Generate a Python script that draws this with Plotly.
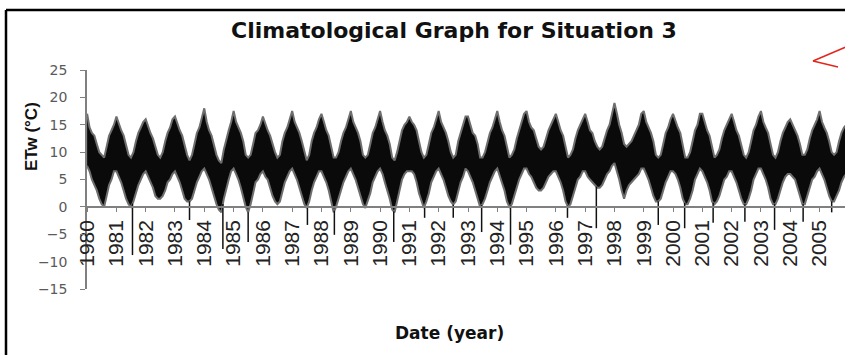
import numpy as np
import pandas as pd
import plotly.graph_objects as go

# ---------------- data ----------------
years = list(range(1980, 2006))
year_labels = [str(y) for y in years]

# monthly upper edge of the daily ETw band (deg C), Jan..Dec for each year
band_top = [
    17.0, 14.5, 13.5, 13.0, 11.5, 10.0, 9.5, 9.0, 11.0, 13.0, 14.0, 15.0,    # 1980
    16.5, 15.0, 14.0, 13.0, 11.5, 9.5, 9.0, 10.0, 12.0, 13.5, 14.5, 15.5,    # 1981
    16.0, 14.5, 13.5, 12.5, 11.0, 9.5, 9.0, 10.0, 12.0, 13.5, 14.5, 16.0,    # 1982
    16.5, 15.0, 14.0, 13.0, 11.5, 9.5, 8.5, 9.5, 11.5, 13.5, 14.5, 16.0,     # 1983
    18.0, 15.5, 14.0, 13.0, 11.5, 9.5, 8.5, 8.0, 10.5, 12.5, 14.0, 15.5,     # 1984
    17.5, 15.5, 14.5, 13.5, 12.0, 9.5, 9.0, 9.5, 11.5, 13.5, 14.0, 15.0,     # 1985
    16.5, 15.0, 14.0, 13.0, 11.5, 10.0, 9.0, 9.5, 12.0, 13.5, 14.5, 16.0,    # 1986
    17.5, 15.5, 14.5, 13.5, 12.0, 10.0, 8.5, 9.5, 12.0, 13.5, 14.5, 16.0,    # 1987
    17.0, 15.5, 14.0, 13.0, 11.0, 9.0, 9.0, 10.0, 12.0, 13.5, 14.5, 16.0,    # 1988
    17.5, 15.5, 14.5, 13.5, 12.0, 9.5, 9.0, 9.5, 11.5, 13.5, 14.5, 16.0,     # 1989
    17.5, 15.5, 14.0, 13.0, 11.5, 9.0, 8.5, 10.0, 12.0, 14.0, 15.0, 15.5,    # 1990
    16.5, 15.5, 15.0, 14.0, 12.0, 10.0, 9.0, 9.5, 11.5, 13.5, 14.5, 16.0,    # 1991
    17.5, 15.5, 14.5, 13.5, 12.0, 10.0, 9.0, 9.5, 12.0, 13.5, 15.0, 16.5,    # 1992
    16.5, 15.0, 13.5, 13.0, 11.5, 9.0, 9.0, 10.0, 12.0, 13.5, 14.5, 16.0,    # 1993
    17.5, 15.5, 14.0, 13.0, 11.0, 9.0, 9.5, 10.5, 12.5, 14.0, 15.5, 17.0,    # 1994
    17.5, 15.5, 14.5, 14.0, 12.5, 11.0, 10.5, 11.0, 12.5, 14.0, 15.0, 16.0,  # 1995
    17.0, 15.5, 14.0, 13.0, 11.0, 9.0, 9.5, 10.5, 12.5, 14.0, 15.0, 16.0,    # 1996
    17.0, 15.5, 14.0, 13.5, 12.0, 11.0, 10.5, 11.0, 12.5, 14.0, 15.0, 17.0,  # 1997
    19.0, 17.0, 15.0, 13.5, 11.5, 11.0, 11.5, 12.0, 13.0, 14.0, 15.0, 17.0,  # 1998
    17.5, 15.5, 14.5, 13.5, 12.0, 9.5, 9.0, 9.5, 11.5, 13.5, 14.5, 16.0,     # 1999
    17.0, 15.5, 14.5, 13.5, 11.5, 9.0, 9.0, 10.0, 12.0, 14.0, 15.0, 17.0,    # 2000
    17.0, 15.5, 14.0, 13.0, 11.0, 9.0, 9.5, 10.5, 12.5, 14.0, 15.0, 16.0,    # 2001
    17.0, 15.5, 14.0, 13.0, 11.5, 9.5, 9.0, 10.0, 12.0, 14.0, 15.0, 16.5,    # 2002
    17.5, 15.5, 14.5, 13.5, 11.5, 9.5, 9.0, 10.0, 12.0, 13.5, 14.5, 15.5,    # 2003
    16.0, 15.0, 14.0, 13.0, 11.5, 9.5, 9.5, 10.5, 12.5, 14.0, 15.0, 16.0,    # 2004
    17.5, 15.5, 14.5, 13.5, 12.0, 10.0, 9.5, 10.0, 12.0, 13.5, 14.5, 15.0,   # 2005
]

# monthly lower edge of the daily ETw band (deg C)
band_bottom = [
    7.5, 6.5, 5.0, 4.0, 3.0, 1.5, 0.5, 0.0, 2.0, 4.0, 5.0, 6.5,      # 1980
    6.5, 5.5, 4.5, 3.0, 1.5, 0.5, 0.0, 1.0, 2.5, 4.0, 5.0, 6.0,      # 1981
    6.5, 5.5, 4.5, 3.5, 2.0, 1.5, 1.5, 2.0, 3.0, 4.5, 5.0, 6.0,      # 1982
    6.5, 5.5, 4.5, 3.0, 1.5, 1.0, 1.0, 1.5, 3.0, 4.5, 5.5, 6.5,      # 1983
    7.0, 6.0, 5.0, 3.5, 2.0, 0.5, -0.5, -1.0, 1.5, 3.5, 5.0, 6.5,    # 1984
    7.0, 6.0, 5.0, 3.5, 1.5, 0.0, -1.0, 0.5, 2.5, 4.5, 5.0, 6.0,     # 1985
    6.5, 5.5, 5.0, 3.5, 2.0, 1.0, 0.5, 1.0, 3.0, 4.5, 5.5, 6.5,      # 1986
    7.0, 6.0, 5.0, 3.5, 2.0, 0.5, -0.2, 1.0, 3.0, 4.5, 5.5, 6.5,     # 1987
    6.5, 5.5, 4.5, 3.0, 1.0, -1.0, 0.0, 1.5, 3.0, 4.5, 5.5, 6.5,     # 1988
    7.0, 6.0, 5.0, 3.5, 2.0, 0.5, -0.2, 1.0, 2.5, 4.5, 5.5, 6.5,     # 1989
    7.0, 6.0, 4.5, 3.0, 1.5, -0.5, -1.0, 1.0, 3.0, 5.0, 6.0, 6.5,    # 1990
    6.5, 6.5, 6.0, 4.5, 2.5, 1.0, -0.2, 1.0, 2.5, 4.5, 5.5, 6.5,     # 1991
    7.0, 6.0, 5.0, 3.5, 2.0, 1.0, 0.4, 1.0, 3.0, 4.5, 5.5, 7.0,      # 1992
    6.5, 5.5, 4.5, 3.0, 1.5, 0.0, 0.5, 1.5, 3.0, 4.5, 5.5, 6.5,      # 1993
    7.0, 5.5, 4.5, 3.0, 1.0, 0.0, 0.5, 2.0, 3.5, 5.0, 6.0, 7.0,      # 1994
    7.0, 6.0, 5.5, 4.5, 3.5, 3.0, 3.0, 3.5, 4.5, 5.5, 6.0, 6.5,      # 1995
    6.5, 5.5, 4.5, 3.0, 1.0, 0.0, 0.5, 2.0, 3.5, 5.0, 5.5, 6.5,      # 1996
    6.5, 5.5, 5.0, 4.5, 4.0, 3.5, 3.5, 4.0, 5.0, 6.0, 6.5, 7.5,      # 1997
    8.0, 6.5, 5.0, 3.0, 1.5, 3.0, 4.0, 4.5, 5.0, 5.5, 6.0, 7.0,      # 1998
    7.0, 6.0, 5.0, 3.5, 2.0, 1.0, 1.0, 1.5, 3.0, 4.5, 5.5, 6.5,      # 1999
    6.5, 6.0, 5.0, 3.5, 1.5, 0.5, 0.5, 1.5, 3.0, 5.0, 6.0, 7.0,      # 2000
    6.5, 5.5, 4.5, 3.0, 1.0, 0.5, 1.0, 2.0, 3.5, 5.0, 5.5, 6.5,      # 2001
    6.5, 5.5, 4.5, 3.0, 1.5, 0.5, 0.5, 1.5, 3.0, 5.0, 6.0, 7.0,      # 2002
    7.0, 6.0, 5.0, 3.5, 1.5, 0.5, 0.5, 1.5, 3.0, 4.5, 5.5, 6.0,      # 2003
    6.0, 5.5, 5.0, 3.5, 2.0, 0.5, 0.5, 2.0, 3.5, 5.0, 5.5, 6.5,      # 2004
    7.0, 6.0, 5.0, 3.5, 2.0, 1.0, 1.0, 2.0, 3.0, 4.5, 5.5, 6.0,      # 2005
]

# isolated cold days reaching well below the band
spike_dates = [
    "1981-07-20", "1983-07-01", "1984-08-20", "1985-07-01", "1987-07-10",
    "1988-06-10", "1990-06-20", "1991-07-10", "1992-07-01", "1993-06-20",
    "1994-06-15", "1996-05-25", "1997-05-20", "1999-07-01", "2000-05-25",
    "2001-05-15", "2002-06-15", "2003-06-20", "2004-06-10", "2005-06-01",
]
spike_values = [
    -8.8, -2.4, -7.7, -6.4, -3.3,
    -5.1, -6.4, -2.0, -2.0, -4.6,
    -6.9, -2.0, -3.9, -3.3, -3.9,
    -2.9, -2.7, -4.2, -2.7, -1.0,
]

# ---------------- figure ----------------
months = pd.date_range("1980-01-01", periods=len(band_top), freq="MS")
tick_dates = [f"{y}-01-01" for y in years]

W, H = 845, 355
L, R, T, B = 87, 0, 70, 66
pw, ph = W - L - R, H - T - B


def px(x):
    return (x - L) / pw


def py(y):
    return (H - B - y) / ph


fig = go.Figure()

fig.add_trace(go.Scatter(
    x=months, y=band_bottom, mode="lines",
    line=dict(color="#6e6e6e", width=2), hoverinfo="skip", showlegend=False,
))
fig.add_trace(go.Scatter(
    x=months, y=band_top, mode="lines", fill="tonexty", fillcolor="#0a0a0a",
    line=dict(color="#6e6e6e", width=2), hoverinfo="skip", showlegend=False,
))

# spikes: vertical strokes from the band's lower edge to the cold value
m_num = months.values.astype("datetime64[D]").astype(float)
sx, sy = [], []
for d, v in zip(spike_dates, spike_values):
    dn = np.datetime64(d, "D").astype(float)
    start = float(np.interp(dn, m_num, band_bottom))
    sx += [d, d, None]
    sy += [start, v, None]
fig.add_trace(go.Scatter(
    x=sx, y=sy, mode="lines", line=dict(color="#111111", width=1.5),
    hoverinfo="skip", showlegend=False,
))

fig.update_layout(
    width=W, height=H,
    margin=dict(l=L, r=R, t=T, b=B, pad=0),
    paper_bgcolor="white", plot_bgcolor="white",
    font=dict(family="Liberation Sans, Arial, sans-serif", color="#333"),
    xaxis=dict(
        type="date",
        range=["1979-12-31", "2005-11-14"],
        tickmode="array", tickvals=tick_dates, ticktext=year_labels,
        tickangle=-90,
        tickfont=dict(family="Liberation Sans, Arial, sans-serif", size=21, color="#222222"),
        ticks="outside", ticklen=4, tickcolor="#808080", tickwidth=1,
        showline=True, linecolor="#808080", linewidth=1.5,
        showgrid=False, zeroline=False,
        anchor="free", position=0.375,
    ),
    yaxis=dict(
        range=[-15, 25], tickmode="linear", tick0=-15, dtick=5,
        tickfont=dict(family="DejaVu Sans, sans-serif", size=14, color="#5a5a5a"),
        ticks="outside", ticklen=5, tickcolor="#808080", tickwidth=1,
        ticklabelstandoff=10,
        showline=True, linecolor="#808080", linewidth=1.5,
        showgrid=False, zeroline=False,
    ),
    showlegend=False,
)

fig.add_annotation(
    text="<b>Climatological Graph for Situation 3</b>", xref="paper", yref="paper",
    x=px(454), y=py(31), showarrow=False, xanchor="center", yanchor="middle",
    font=dict(family="DejaVu Sans, sans-serif", size=22, color="#111"),
)
fig.add_annotation(
    text="<b>ETw (°C)</b>", xref="paper", yref="paper",
    x=px(31), y=py(137), showarrow=False, textangle=-90,
    xanchor="center", yanchor="middle",
    font=dict(family="Liberation Sans, Arial, sans-serif", size=17, color="#111"),
)
fig.add_annotation(
    text="<b>Date (year)</b>", xref="paper", yref="paper",
    x=px(449), y=py(333), showarrow=False, xanchor="center", yanchor="middle",
    font=dict(family="DejaVu Sans, sans-serif", size=17, color="#111"),
)

# outer frame (left and top edges of the original picture)
fig.add_shape(type="line", xref="paper", yref="paper",
              x0=px(6), x1=px(6), y0=py(10), y1=py(356),
              line=dict(color="black", width=2.5))
fig.add_shape(type="line", xref="paper", yref="paper",
              x0=px(6), x1=px(846), y0=py(10), y1=py(10),
              line=dict(color="black", width=2.5))

# red hand-drawn arrow in the top-right corner
red = "#e3261d"
fig.add_shape(type="line", xref="paper", yref="paper",
              x0=px(813), y0=py(61), x1=px(846), y1=py(47),
              line=dict(color=red, width=1.5))
fig.add_shape(type="line", xref="paper", yref="paper",
              x0=px(813), y0=py(61), x1=px(838), y1=py(67),
              line=dict(color=red, width=1.5))

fig.write_html("out.html")
